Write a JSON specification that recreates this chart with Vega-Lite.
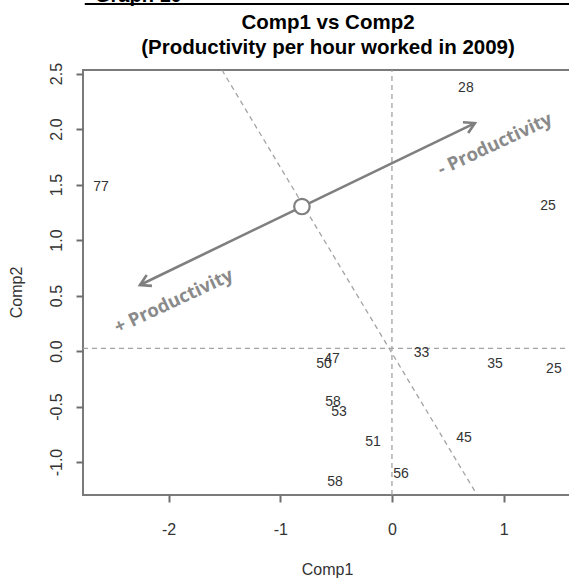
{
  "$schema": "https://vega.github.io/schema/vega-lite/v6.json",
  "width": 490,
  "height": 425,
  "autosize": {"type": "none"},
  "padding": {"left": 83, "top": 70, "right": 0, "bottom": 85},
  "background": "white",
  "title": {
    "text": ["Comp1 vs Comp2", "(Productivity per hour worked in 2009)"],
    "font": "Liberation Sans",
    "fontSize": 20.5,
    "fontWeight": "bold",
    "color": "#000000",
    "anchor": "middle",
    "frame": "group",
    "offset": -73,
    "lineHeight": 25
  },
  "config": {
    "view": {"stroke": "#7a7a7a", "strokeWidth": 2}
  },
  "datasets": {
    "points": [
      {"x": -2.605, "y": 1.477, "label": "77"},
      {"x": 0.662, "y": 2.369, "label": "28"},
      {"x": 1.397, "y": 1.306, "label": "25"},
      {"x": 0.264, "y": -0.014, "label": "33"},
      {"x": 0.922, "y": -0.117, "label": "35"},
      {"x": 1.45, "y": -0.162, "label": "25"},
      {"x": -0.609, "y": -0.117, "label": "50"},
      {"x": -0.537, "y": -0.072, "label": "47"},
      {"x": -0.528, "y": -0.459, "label": "58"},
      {"x": -0.474, "y": -0.55, "label": "53"},
      {"x": -0.17, "y": -0.82, "label": "51"},
      {"x": 0.645, "y": -0.784, "label": "45"},
      {"x": 0.081, "y": -1.108, "label": "56"},
      {"x": -0.51, "y": -1.18, "label": "58"}
    ],
    "refs": [
      {"x": 0, "y": -1.297, "x2": 0, "y2": 2.532},
      {"x": -2.766, "y": 0.024, "x2": 1.621, "y2": 0.024},
      {"x": -1.522, "y": 2.532, "x2": 0.752, "y2": -1.279}
    ],
    "arrow": [
      {"x": -2.256, "y": 0.595, "x2": 0.743, "y2": 2.054}
    ],
    "headUp": [{"x": 0.743, "y": 2.054}],
    "headDown": [{"x": -2.256, "y": 0.595}],
    "center": [{"x": -0.806, "y": 1.302}],
    "notes": [
      {"x": 0.922, "y": 1.865, "label": "- Productivity"},
      {"x": -1.954, "y": 0.45, "label": "+ Productivity"}
    ],
    "headerLine": [{"x": -2.75, "y": 3.127, "x2": 1.65, "y2": 3.127}],
    "headerText": [{"x": -2.659, "y": 3.145, "label": "Graph 10"}]
  },
  "encoding": {
    "x": {
      "field": "x",
      "type": "quantitative",
      "scale": {"domain": [-2.766, 1.621], "nice": false, "zero": false},
      "axis": {
        "values": [-2, -1, 0, 1],
        "labelExpr": "replace(datum.label, '\u2212', '-')",
        "title": "Comp1",
        "domain": false,
        "grid": false,
        "tickSize": 7,
        "tickWidth": 2,
        "tickColor": "#6e6e6e",
        "labelFont": "Liberation Sans",
        "labelFontSize": 16,
        "labelColor": "#333333",
        "labelPadding": 19,
        "labelFlush": false,
        "labelOverlap": false,
        "titleFont": "Liberation Sans",
        "titleFontSize": 16,
        "titleFontWeight": "normal",
        "titleColor": "#333333",
        "titleX": 244,
        "titleY": 74,
        "titleAlign": "center",
        "titleBaseline": "middle"
      }
    },
    "y": {
      "field": "y",
      "type": "quantitative",
      "scale": {"domain": [-1.297, 2.532], "nice": false, "zero": false},
      "axis": {
        "values": [-1, -0.5, 0, 0.5, 1, 1.5, 2, 2.5],
        "format": ".1f",
        "labelExpr": "replace(datum.label, '\u2212', '-')",
        "title": "Comp2",
        "domain": false,
        "grid": false,
        "tickSize": 7,
        "tickWidth": 2,
        "tickColor": "#6e6e6e",
        "labelFont": "Liberation Sans",
        "labelFontSize": 16,
        "labelColor": "#333333",
        "labelAngle": 270,
        "labelAlign": "center",
        "labelBaseline": "middle",
        "labelPadding": 20,
        "labelFlush": false,
        "labelOverlap": false,
        "titleFont": "Liberation Sans",
        "titleFontSize": 16,
        "titleFontWeight": "normal",
        "titleColor": "#333333",
        "titleAngle": 270,
        "titleX": -67,
        "titleY": 222,
        "titleAlign": "center",
        "titleBaseline": "middle"
      }
    }
  },
  "layer": [
    {
      "data": {"name": "refs"},
      "mark": {"type": "rule", "color": "#a3a3a3", "strokeWidth": 1.3, "strokeDash": [5, 4]},
      "encoding": {"x2": {"field": "x2"}, "y2": {"field": "y2"}}
    },
    {
      "data": {"name": "arrow"},
      "mark": {"type": "rule", "color": "#7f7f7f", "strokeWidth": 2.6},
      "encoding": {"x2": {"field": "x2"}, "y2": {"field": "y2"}}
    },
    {
      "data": {"name": "headUp"},
      "mark": {"type": "point", "shape": "M -1 -0.577 L 0 0 L -1 0.577", "filled": false, "stroke": "#7f7f7f", "strokeWidth": 2.6, "size": 433, "angle": 334.2, "opacity": 1},
      "encoding": {}
    },
    {
      "data": {"name": "headDown"},
      "mark": {"type": "point", "shape": "M -1 -0.577 L 0 0 L -1 0.577", "filled": false, "stroke": "#7f7f7f", "strokeWidth": 2.6, "size": 433, "angle": 154.2, "opacity": 1},
      "encoding": {}
    },
    {
      "data": {"name": "center"},
      "mark": {"type": "point", "shape": "circle", "filled": true, "fill": "white", "stroke": "#7f7f7f", "strokeWidth": 2.2, "size": 240, "opacity": 1, "fillOpacity": 1},
      "encoding": {}
    },
    {
      "data": {"name": "points"},
      "mark": {"type": "text", "font": "Liberation Sans", "fontSize": 14, "color": "#333333", "align": "center", "baseline": "middle"},
      "encoding": {"text": {"field": "label"}}
    },
    {
      "data": {"name": "notes"},
      "mark": {"type": "text", "font": "Open Sans", "fontSize": 18.5, "fontWeight": "bold", "color": "#8a8a8a", "align": "center", "baseline": "middle", "angle": 335},
      "encoding": {"text": {"field": "label"}}
    },
    {
      "data": {"name": "headerLine"},
      "mark": {"type": "rule", "color": "#000000", "strokeWidth": 2},
      "encoding": {"x2": {"field": "x2"}, "y2": {"field": "y2"}}
    },
    {
      "data": {"name": "headerText"},
      "mark": {"type": "text", "font": "Liberation Sans", "fontSize": 20, "fontWeight": "bold", "color": "#000000", "align": "left", "baseline": "alphabetic"},
      "encoding": {"text": {"field": "label"}}
    }
  ]
}
